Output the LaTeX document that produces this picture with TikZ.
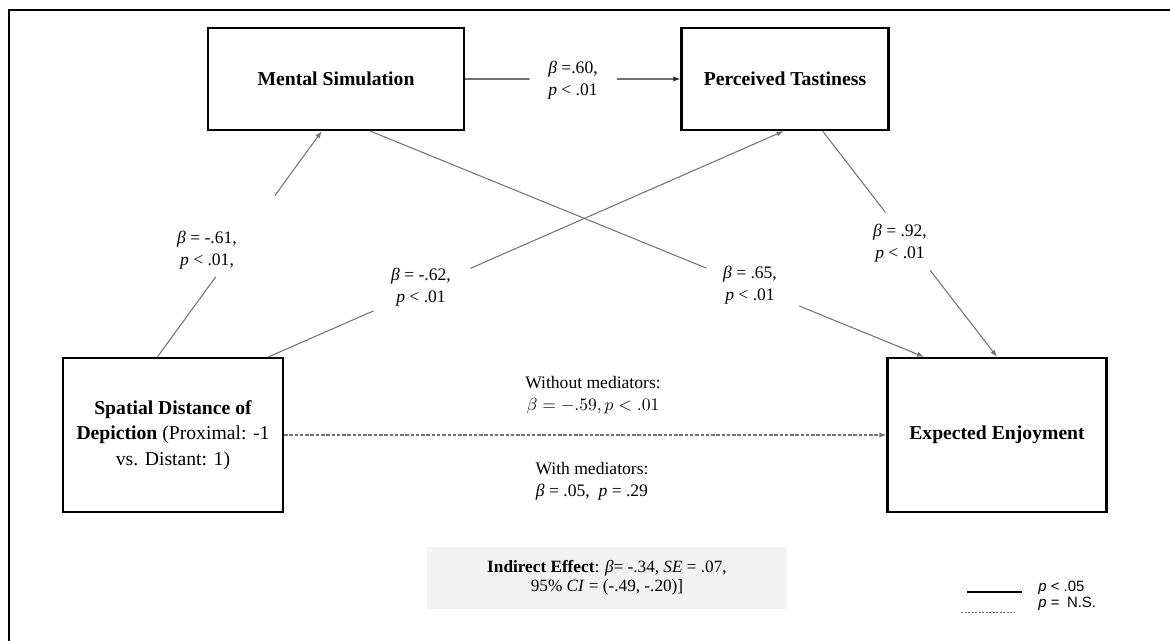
\documentclass[tikz,border=0pt]{standalone}
\usepackage{fontspec}
\setmainfont{Liberation Serif}
\newfontfamily\legendfont{Liberation Sans}
\usetikzlibrary{arrows.meta, positioning, calc}

\begin{document}
\begin{tikzpicture}[
    x=0.02cm, y=-0.02cm,
    var/.style={rectangle, draw, line width=1.3pt, align=center, inner sep=0pt,
      font=\bfseries\fontsize{11.2}{14.6}\selectfont},
    path/.style={draw=black!55, line width=0.6pt},
    arrow/.style={path, -{Latex[length=4pt,width=3pt]}},
    coef/.style={align=center, inner sep=1pt, font=\fontsize{10}{12.4}\selectfont},
    legtxt/.style={anchor=west, inner sep=0pt, font=\legendfont\fontsize{8.5}{10}\selectfont}
  ]
  \useasboundingbox (0,0) rectangle (1170,641);
  \draw[line width=1pt] (9,641) -- (9,10) -- (1170,10);

  % variables
  \node[var, minimum width=5.12cm, minimum height=2.04cm] (ms) at (336,79) {Mental Simulation};
  \node[var, minimum width=4.14cm, minimum height=2.04cm] (pt) at (785,79) {Perceived Tastiness};
  \node[var, minimum width=4.4cm, minimum height=3.08cm] (sd) at (173,435)
    {Spatial Distance of\\Depiction \textmd{(Proximal: -1}\\\textmd{vs. Distant: 1)}};
  \node[var, minimum width=4.38cm, minimum height=3.08cm] (ee) at (997,435) {Expected Enjoyment};

  % where the paths meet the boxes
  \coordinate (s1) at ($(sd.north west)!0.43!(sd.north east)$);
  \coordinate (s2) at ($(sd.north west)!0.93!(sd.north east)$);
  \coordinate (m1) at ($(ms.south west)!0.445!(ms.south east)$);
  \coordinate (m2) at ($(ms.south west)!0.633!(ms.south east)$);
  \coordinate (p1) at ($(pt.south west)!0.68!(pt.south east)$);
  \coordinate (p2) at ($(pt.south west)!0.493!(pt.south east)$);
  \coordinate (e1) at ($(ee.north west)!0.17!(ee.north east)$);
  \coordinate (e2) at ($(ee.north west)!0.50!(ee.north east)$);

  % paths, broken where the coefficients sit
  \foreach \from/\to/\ga/\gb in {s1/m1/0.355/0.715, s2/p2/0.204/0.392, m2/e1/0.607/0.775, p1/e2/0.36/0.617}
  {
    \draw[path] (\from) -- ($(\from)!\ga!(\to)$);
    \draw[arrow] ($(\from)!\gb!(\to)$) -- (\to);
  }
  \draw[path, draw=black!85] (ms.east) -- ($(ms.east)!0.30!(pt.west)$);
  \draw[arrow, draw=black!85] ($(ms.east)!0.705!(pt.west)$) -- (pt.west);
  \draw[arrow, dash pattern=on 2pt off 1pt] (sd) -- (ee);

  % coefficients
  \node[coef] (c1) at (573,80) {\textit{β} =.60,\\\textit{p} < .01};
  \node[coef] (c2) at (207,250) {\textit{β} = -.61,\\\textit{p} < .01,};
  \node[coef] (c3) at (421,287) {\textit{β} = -.62,\\\textit{p} < .01};
  \node[coef] (c4) at (750,285) {\textit{β} = .65,\\\textit{p} < .01};
  \node[coef] (c5) at (900,243) {\textit{β} = .92,\\\textit{p} < .01};
  \node[coef] (wo) at (593,395) {Without mediators:\\$\beta = -.59, p < .01$};
  \node[coef] (wi) at (592,481) {With mediators:\\\textit{β} = .05,\enspace\textit{p} = .29};

  % indirect effect
  \node[coef, fill=gray!10, minimum width=7.2cm, minimum height=1.26cm,
    font=\fontsize{9.8}{11}\selectfont] (ind) at (607,578)
    {\textbf{Indirect Effect}: \textit{β}= -.34, \textit{SE} = .07,\\95\% \textit{CI} = (-.49, -.20)]};

  % legend
  \node[legtxt] (sig) at (1038,588) {\textit{p} < .05};
  \node[legtxt] (ns) at (1038,604) {\textit{p} =\enspace N.S.};
  \draw[line width=0.6pt] (967,592) -- (1022,592);
  \draw[black!60, line width=0.5pt, dash pattern=on 1.2pt off 0.8pt] (961,612) -- (1015,612);
\end{tikzpicture}
\end{document}
